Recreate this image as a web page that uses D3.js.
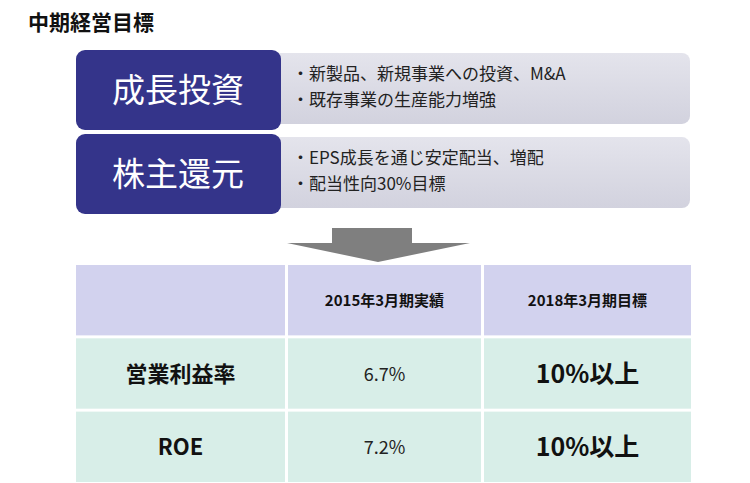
<!DOCTYPE html>
<html><head><meta charset="utf-8">
<script src="https://cdn.jsdelivr.net/npm/d3@7"></script>
<style>body{margin:0;background:#fff}text{font-family:"Noto Sans CJK JP",sans-serif}</style>
</head><body>
<script>
var title = "中期経営目標";
var policies = ["成長投資", "株主還元"];
var policyPoints = [
  ["・新製品、新規事業への投資、M&A", "・既存事業の生産能力増強"],
  ["・EPS成長を通じ安定配当、増配", "・配当性向30%目標"]
];
var columns = ["", "2015年3月期実績", "2018年3月期目標"];
var rowLabels = ["営業利益率", "ROE"];
var actual = ["6.7%", "7.2%"];
var target = ["10%以上", "10%以上"];

var width = 750, height = 483;
var svg = d3.select("body").append("svg").attr("width", width).attr("height", height);

svg.append("text").attr("x", 28).attr("y", 30).attr("font-size", 21).attr("font-weight", "bold")
  .attr("fill", "#111").text(title);

var grad = svg.append("defs").append("linearGradient").attr("id", "g").attr("x1", 0).attr("x2", 0).attr("y1", 0).attr("y2", 1);
grad.append("stop").attr("offset", 0).attr("stop-color", "#e4e4ec");
grad.append("stop").attr("offset", 1).attr("stop-color", "#d2d2de");

// policy blocks
var py = d3.scaleBand().domain(d3.range(policies.length)).range([50, 214]).paddingInner(0.05);
var blocks = svg.selectAll(".blk").data(policies).enter().append("g").attr("class", "blk");
blocks.append("rect").attr("x", 270).attr("y", function(d, i){ return py(i) + 3; })
  .attr("width", 420).attr("height", py.bandwidth() - 9).attr("rx", 8).attr("fill", "url(#g)");
blocks.append("rect").attr("x", 76).attr("y", function(d, i){ return py(i); })
  .attr("width", 205).attr("height", py.bandwidth()).attr("rx", 9).attr("fill", "#34348a");
blocks.append("text").attr("x", 178).attr("y", function(d, i){ return py(i) + py.bandwidth() / 2 + 12; })
  .attr("text-anchor", "middle").attr("font-size", 33).attr("fill", "#fff").text(function(d){ return d; });
blocks.each(function(d, i){
  d3.select(this).selectAll(".pt").data(policyPoints[i]).enter().append("text")
    .attr("x", 292).attr("y", function(t, j){ return py(i) + 30 + j * 26; })
    .attr("font-size", 17).attr("fill", "#222").text(function(t){ return t; });
});

// arrow
svg.append("path").attr("d", "M332,228H412V243H470L378,262L287,243H332Z").attr("fill", "#7f7f7f");

// table
var colW = [209, 193, 207], colX = [76, 288, 484];
var ry = d3.scaleBand().domain(d3.range(rowLabels.length + 1)).range([265, 482]).paddingInner(0.04);
var t = svg.append("g");
d3.range(rowLabels.length + 1).forEach(function(r){
  d3.range(columns.length).forEach(function(c){
    t.append("rect").attr("x", colX[c]).attr("y", ry(r)).attr("width", colW[c]).attr("height", ry.bandwidth())
      .attr("fill", r === 0 ? "#d2d2ee" : "#d8eee8");
  });
});
columns.forEach(function(c, i){
  t.append("text").attr("x", colX[i] + colW[i] / 2).attr("y", ry(0) + ry.bandwidth() / 2 + 6)
    .attr("text-anchor", "middle").attr("font-size", 15).attr("font-weight", "bold").attr("fill", "#111").text(c);
});
rowLabels.forEach(function(l, i){
  var yc = ry(i + 1) + ry.bandwidth() / 2;
  t.append("text").attr("x", colX[0] + colW[0] / 2).attr("y", yc + 8).attr("text-anchor", "middle")
    .attr("font-size", 22).attr("font-weight", "bold").attr("fill", "#111").text(l);
  t.append("text").attr("x", colX[1] + colW[1] / 2).attr("y", yc + 7).attr("text-anchor", "middle")
    .attr("font-size", 18).attr("fill", "#222").text(actual[i]);
  t.append("text").attr("x", colX[2] + colW[2] / 2).attr("y", yc + 9).attr("text-anchor", "middle")
    .attr("font-size", 25).attr("font-weight", "bold").attr("fill", "#111").text(target[i]);
});
</script>
</body></html>
